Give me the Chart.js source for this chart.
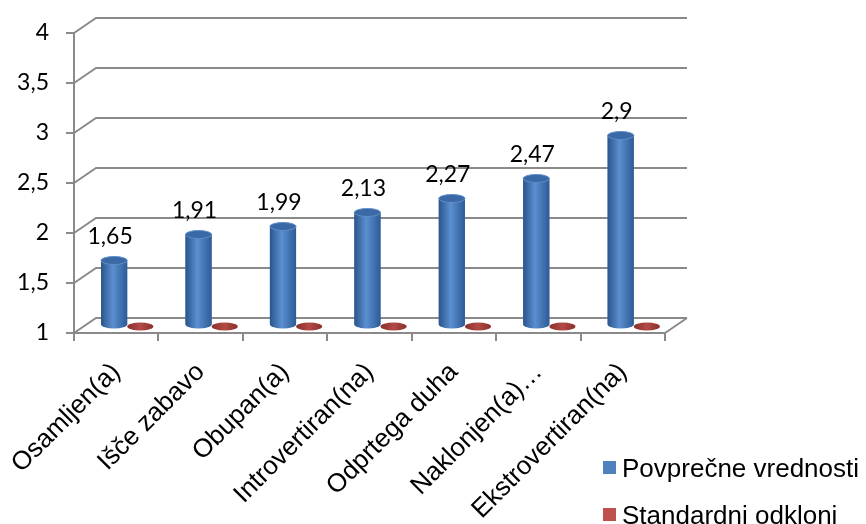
<!DOCTYPE html>
<html>
<head>
<meta charset="utf-8">
<script src="https://cdn.jsdelivr.net/npm/chart.js@4.4.1/dist/chart.umd.min.js"></script>
<style>
  html, body { margin: 0; padding: 0; background: #fff; }
  #wrap { width: 866px; height: 524px; }
</style>
</head>
<body>
<div id="wrap"><canvas id="chart" width="866" height="524"></canvas></div>
<script>
// data
const categories = ['Osamljen(a)', 'Išče zabavo', 'Obupan(a)', 'Introvertiran(na)', 'Odprtega duha', 'Naklonjen(a)…', 'Ekstrovertiran(na)'];
const seriesNames = ['Povprečne vrednosti', 'Standardni odkloni'];
const meanValues = [1.65, 1.91, 1.99, 2.13, 2.27, 2.47, 2.9];
const stdValues = [0.94, 0.93, 0.96, 0.95, 0.92, 0.97, 0.98]; // below the axis minimum, shown flat on the floor
const yTickLabels = ['1', '1,5', '2', '2,5', '3', '3,5', '4'];

const GRID = '#8a8a8a';
const BLUE = '#4F81BD';
const RED = '#C0504D';
const DX = 22, DY = -15;   // depth of the 3D box

// back wall, side wall and floor; bars are shifted half way into the box
const depth3d = {
    id: 'depth3d',
    beforeDatasetsDraw(chart) {
        const { ctx, chartArea: a, scales: { y } } = chart;
        ctx.save();
        ctx.strokeStyle = GRID;
        ctx.lineWidth = 2;
        y.ticks.forEach(t => {
            const py = y.getPixelForValue(t.value);
            ctx.beginPath();
            ctx.moveTo(a.left, py);
            ctx.lineTo(a.left + DX, py + DY);
            ctx.lineTo(a.right + DX, py + DY);
            ctx.stroke();
        });
        ctx.beginPath();
        ctx.moveTo(a.right, a.bottom);
        ctx.lineTo(a.right + DX, a.bottom + DY);
        ctx.stroke();
        ctx.restore();

        ctx.save();
        ctx.translate(DX / 2, DY / 2);
    },
    afterDatasetsDraw(chart) {
        const ctx = chart.ctx;

        // blue cylinders
        chart.getDatasetMeta(0).data.forEach((el, i) => {
            const { x, y: top, base, width } = el.getProps(['x', 'y', 'base', 'width'], true);
            const rx = width / 2, ry = 4;
            const l = x - rx, r = x + rx;
            const g = ctx.createLinearGradient(l, 0, r, 0);
            g.addColorStop(0, '#2a558c');
            g.addColorStop(0.45, '#5b8fd0');
            g.addColorStop(1, '#2d5b96');
            ctx.fillStyle = g;
            ctx.beginPath();
            ctx.moveTo(l, top);
            ctx.lineTo(l, base);
            ctx.ellipse(x, base, rx, ry, 0, Math.PI, 0, true);
            ctx.lineTo(r, top);
            ctx.closePath();
            ctx.fill();

            ctx.beginPath();
            ctx.ellipse(x, top, rx, ry, 0, 0, Math.PI * 2);
            ctx.fillStyle = '#3b69a6';
            ctx.fill();
            ctx.strokeStyle = '#5f8dc9';
            ctx.lineWidth = 1;
            ctx.stroke();

            // value label
            ctx.fillStyle = '#000';
            ctx.font = '23px Lato, sans-serif';
            ctx.textAlign = 'center';
            ctx.textBaseline = 'alphabetic';
            ctx.fillText(String(meanValues[i]).replace('.', ','), x - 4, top - 17);
        });

        // red discs lying on the floor
        chart.getDatasetMeta(1).data.forEach(el => {
            const { x, base, width } = el.getProps(['x', 'base', 'width'], true);
            const g = ctx.createLinearGradient(x - width / 2, 0, x + width / 2, 0);
            g.addColorStop(0, '#8a2f2c');
            g.addColorStop(0.5, '#b24a46');
            g.addColorStop(1, '#8a2f2c');
            ctx.beginPath();
            ctx.ellipse(x, base, width / 2, 4, 0, 0, Math.PI * 2);
            ctx.fillStyle = g;
            ctx.fill();
        });

        ctx.restore();
    },
    afterDraw(chart) {
        const ctx = chart.ctx;
        const colors = [BLUE, RED];
        ctx.save();
        ctx.font = '26px "Liberation Sans", Arial, sans-serif';
        ctx.textAlign = 'left';
        ctx.textBaseline = 'alphabetic';
        seriesNames.forEach((name, i) => {
            const top = 461 + i * 47;
            ctx.fillStyle = colors[i];
            ctx.fillRect(603, top, 13, 13);
            ctx.fillStyle = '#000';
            ctx.fillText(name, 622, top + 16);
        });
        ctx.restore();
    }
};

new Chart(document.getElementById('chart').getContext('2d'), {
    type: 'bar',
    data: {
        labels: categories,
        datasets: [
            { label: seriesNames[0], data: meanValues, backgroundColor: BLUE, base: 1 },
            { label: seriesNames[1], data: stdValues, backgroundColor: 'rgba(0,0,0,0)', base: 1 }
        ]
    },
    options: {
        responsive: false,
        animation: false,
        devicePixelRatio: 1,
        datasets: { bar: { categoryPercentage: 0.62, barPercentage: 1 } },
        layout: { padding: { top: 33, right: 201, left: 0, bottom: 0 } },
        plugins: { legend: { display: false }, tooltip: { enabled: false } },
        scales: {
            x: {
                offset: true,
                grid: { offset: true, drawOnChartArea: false, color: GRID, lineWidth: 2, tickLength: 8 },
                border: { display: true, color: GRID, width: 2 },
                ticks: {
                    autoSkip: false, minRotation: 45, maxRotation: 45, padding: 16, color: '#000',
                    font: { family: '"Liberation Sans", Arial, sans-serif', size: 26 }
                },
                afterFit(s) { s.height = 191; s.paddingLeft = 0; s.paddingRight = 0; }
            },
            y: {
                min: 1, max: 4,
                grid: { drawOnChartArea: false, color: GRID, lineWidth: 2, tickLength: 8 },
                border: { display: true, color: GRID, width: 2 },
                ticks: {
                    stepSize: 0.5, padding: 17, color: '#000',
                    font: { family: 'Lato, sans-serif', size: 23 },
                    callback: (v, i) => yTickLabels[i]
                },
                afterFit(s) { s.width = 74; }
            }
        }
    },
    plugins: [depth3d]
});
</script>
</body>
</html>
